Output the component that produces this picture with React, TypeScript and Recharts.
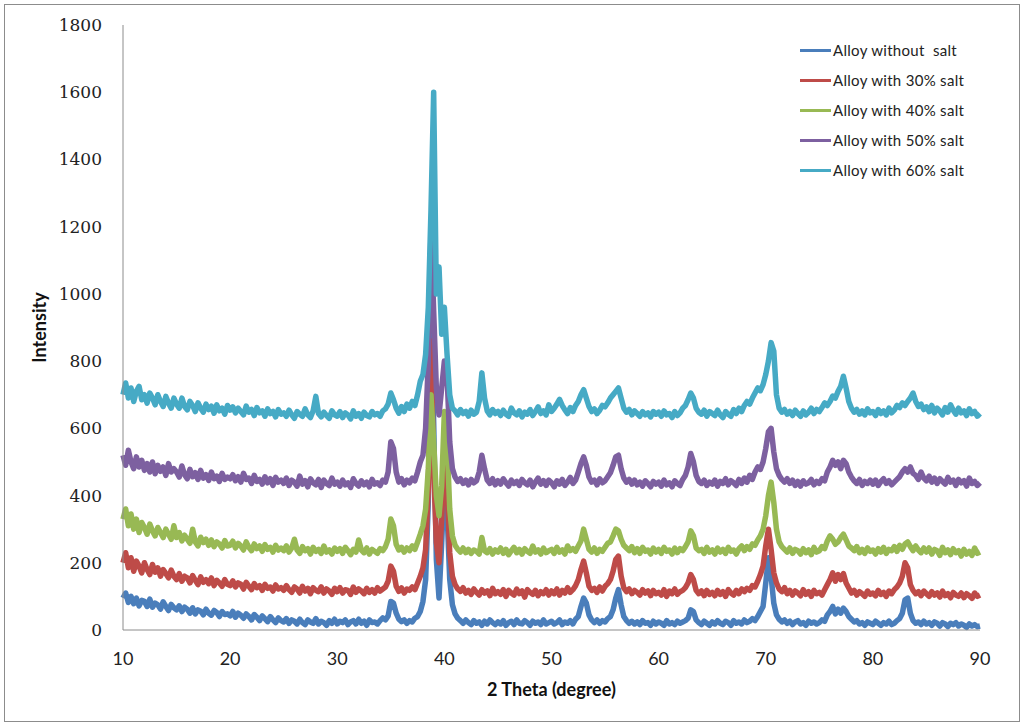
import { LineChart, Line, XAxis, YAxis, Legend } from "recharts";

// 2 theta grid, 10..90 in 0.25 degree steps
const theta: number[] = Array.from({ length: 321 }, (_, i) => 10 + i * 0.25);

// one row = 5 degrees (20 points)
const noSalt = [
  95, 110, 82, 100, 78, 95, 72, 88, 85, 70, 92, 68, 80, 75, 62, 84, 70, 58, 76, 66,
  60, 72, 55, 68, 62, 50, 66, 48, 60, 56, 45, 62, 50, 44, 58, 52, 40, 55, 46, 48,
  42, 55, 38, 50, 44, 35, 48, 40, 30, 46, 38, 28, 42, 34, 25, 40, 30, 22, 36, 28,
  24, 34, 20, 30, 26, 18, 32, 22, 16, 30, 24, 20, 34, 18, 26, 22, 14, 28, 20, 32,
  18, 26, 22, 30, 16, 24, 28, 18, 32, 20, 26, 14, 30, 22, 24, 18, 28, 36, 30, 42,
  85, 80, 50, 32, 25, 30, 20, 28, 24, 35, 40, 55, 85, 150, 380, 1000, 620, 210, 95, 260,
  450, 350, 150, 75, 48, 35, 28, 20, 30, 22, 16, 28, 20, 24, 14, 26, 18, 30, 22, 16,
  24, 18, 28, 14, 22, 26, 16, 30, 20, 18, 28, 22, 14, 26, 20, 24, 16, 30, 18, 22,
  26, 18, 22, 30, 16, 24, 20, 28, 18, 32, 40, 70, 95, 80, 45, 30, 22, 30, 20, 28,
  24, 34, 40, 60, 95, 120, 75, 40, 28, 20, 26, 18, 24, 16, 28, 20, 22, 14, 26, 18,
  24, 20, 14, 28, 18, 22, 16, 26, 20, 24, 28, 35, 60, 55, 30, 22, 16, 26, 20, 14,
  24, 18, 28, 20, 16, 26, 22, 14, 28, 20, 24, 18, 30, 22, 26, 34, 28, 40, 55, 70,
  140, 215, 160, 80, 45, 32, 24, 30, 20, 26, 16, 24, 28, 18, 22, 14, 26, 20, 24, 18,
  22, 30, 26, 45, 55, 70, 48, 62, 50, 65, 55, 40, 32, 24, 28, 18, 22, 14, 24, 20,
  16, 26, 20, 14, 22, 18, 26, 16, 20, 28, 34, 50, 90, 95, 50, 28, 20, 24, 16, 26,
  18, 22, 14, 24, 20, 12, 22, 18, 10, 20, 16, 22, 12, 18, 14, 8, 18, 12, 16, 10,
  12,
];

const salt30 = [
  200, 230, 185, 215, 175, 205, 190, 170, 200, 180, 165, 195, 172, 185, 160, 180, 168, 155, 178, 160,
  150, 168, 145, 160, 155, 140, 162, 148, 135, 158, 142, 150, 138, 155, 132, 148, 140, 130, 150, 136,
  132, 146, 128, 140, 136, 122, 142, 130, 120, 138, 126, 132, 118, 136, 124, 128, 116, 134, 122, 126,
  118, 132, 120, 112, 128, 122, 110, 130, 116, 124, 108, 126, 118, 114, 128, 110, 122, 116, 106, 124,
  114, 126, 110, 120, 118, 106, 128, 112, 122, 116, 108, 124, 112, 120, 110, 126, 116, 122, 128, 145,
  190, 175, 130, 115, 125, 110, 122, 118, 128, 120, 140, 160, 185, 240, 420, 860, 480, 260, 200, 330,
  530, 430, 230, 160, 135, 122, 115, 126, 110, 118, 106, 122, 112, 104, 120, 110, 116, 102, 124, 108,
  114, 106, 120, 100, 118, 110, 104, 122, 108, 116, 98, 120, 112, 106, 118, 102, 114, 108, 120, 104,
  116, 108, 122, 104, 118, 110, 126, 112, 120, 132, 150, 180, 205, 170, 130, 118, 124, 112, 128, 116,
  130, 138, 150, 175, 210, 220, 160, 125, 114, 122, 108, 118, 112, 104, 120, 110, 116, 102, 118, 108,
  112, 104, 120, 100, 116, 108, 122, 106, 114, 118, 126, 140, 165, 150, 118, 108, 116, 102, 118, 106,
  112, 102, 118, 106, 114, 100, 120, 110, 104, 118, 108, 122, 114, 124, 118, 132, 128, 145, 165, 190,
  250, 300, 240, 170, 140, 122, 114, 126, 108, 118, 104, 116, 110, 102, 120, 106, 114, 100, 118, 108,
  112, 104, 120, 135, 150, 170, 145, 165, 150, 168, 140, 125, 110, 118, 104, 114, 108, 100, 116, 106,
  110, 102, 118, 106, 112, 100, 116, 108, 120, 128, 140, 160, 200, 185, 135, 118, 108, 114, 102, 116,
  108, 100, 114, 104, 110, 98, 116, 102, 108, 96, 112, 104, 100, 110, 96, 108, 102, 94, 110, 100,
  104,
];

const salt40 = [
  330, 360, 310, 345, 300, 330, 290, 320, 305, 285, 315, 295, 280, 305, 290, 275, 300, 285, 270, 310,
  275, 290, 265, 282, 270, 258, 300, 262, 250, 276, 260, 270, 252, 268, 248, 262, 256, 244, 266, 250,
  252, 264, 244, 258, 250, 238, 262, 246, 236, 256, 242, 250, 234, 254, 240, 246, 232, 252, 238, 244,
  236, 250, 232, 244, 270, 238, 228, 248, 236, 242, 226, 246, 234, 240, 228, 250, 232, 238, 226, 244,
  234, 242, 228, 246, 236, 224, 240, 232, 268, 238, 230, 244, 226, 240, 234, 228, 242, 236, 248, 270,
  330, 310, 255, 238, 246, 232, 244, 236, 250, 240, 262, 285, 310, 360, 480, 700, 560, 400, 340, 430,
  650, 560, 360, 280, 252, 240, 232, 244, 230, 240, 228, 238, 234, 226, 275, 236, 230, 242, 226, 238,
  232, 244, 228, 240, 224, 236, 246, 230, 240, 226, 242, 234, 228, 250, 232, 238, 226, 244, 230, 236,
  240, 228, 246, 232, 238, 226, 250, 236, 242, 234, 250, 265, 300, 270, 240, 232, 244, 228, 240, 234,
  246, 258, 262, 280, 300, 295, 270, 252, 244, 236, 248, 230, 242, 228, 246, 234, 238, 226, 244, 232,
  240, 228, 246, 234, 238, 226, 244, 230, 242, 236, 248, 262, 295, 280, 244, 236, 240, 228, 246, 232,
  238, 226, 244, 232, 240, 228, 246, 234, 238, 226, 242, 250, 236, 248, 240, 256, 252, 268, 280, 300,
  340, 400, 440, 380, 300, 262, 248, 240, 232, 244, 228, 240, 236, 226, 242, 230, 238, 224, 246, 232,
  236, 248, 242, 265, 280, 270, 255, 262, 275, 285, 268, 250, 244, 236, 248, 230, 240, 228, 244, 234,
  238, 226, 242, 232, 246, 228, 240, 236, 248, 234, 252, 240, 256, 262, 248, 236, 250, 238, 230, 244,
  232, 244, 226, 240, 236, 222, 246, 230, 238, 224, 242, 230, 236, 220, 240, 226, 234, 222, 244, 228,
  232,
];

const salt50 = [
  520, 490, 535, 500, 480, 515, 485, 505, 475, 495, 470, 500, 465, 490, 472, 485, 460, 495, 470, 480,
  470, 455, 488, 462, 450, 478, 456, 468, 448, 475, 452, 462, 445, 470, 450, 458, 442, 466, 448, 455,
  450, 462, 444, 456, 440, 466, 448, 452, 436, 460, 442, 448, 434, 456, 438, 450, 430, 454, 440, 446,
  436, 452, 430, 446, 440, 428, 458, 434, 444, 426, 450, 438, 432, 448, 424, 446, 436, 430, 452, 434,
  440, 428, 446, 432, 438, 424, 450, 436, 428, 444, 432, 440, 426, 448, 434, 438, 430, 446, 440, 470,
  560, 540, 470, 440, 450, 432, 446, 438, 452, 444, 470, 500, 520, 600, 800, 1190, 950, 720, 640, 720,
  800, 760, 560, 480, 455, 442, 450, 436, 446, 432, 448, 438, 444, 470, 520, 480, 446, 436, 450, 432,
  444, 434, 450, 438, 428, 446, 436, 442, 430, 448, 438, 432, 446, 426, 440, 452, 434, 444, 430, 446,
  438, 426, 444, 434, 448, 430, 440, 454, 436, 446, 470, 495, 515, 490, 455, 440, 446, 432, 450, 438,
  444, 456, 468, 490, 515, 520, 480, 452, 440, 448, 434, 446, 432, 440, 428, 444, 436, 426, 442, 434,
  440, 428, 446, 432, 438, 426, 444, 436, 430, 448, 460, 485, 525, 500, 460, 442, 436, 446, 430, 440,
  434, 446, 428, 442, 436, 450, 432, 444, 438, 430, 448, 436, 452, 440, 460, 448, 470, 485, 478, 500,
  540, 590, 600, 530, 480, 460, 448, 440, 450, 436, 446, 430, 442, 428, 444, 434, 438, 448, 432, 442,
  436, 450, 444, 470, 485, 505, 490, 500, 480, 505, 495, 470, 455, 444, 436, 448, 430, 442, 436, 446,
  434, 446, 430, 442, 450, 436, 444, 432, 440, 448, 456, 470, 480, 470, 485, 466, 460, 448, 470, 452,
  444, 458, 440, 452, 436, 450, 442, 434, 454, 440, 446, 430, 448, 438, 444, 428, 452, 436, 442, 430,
  438,
];

const salt60 = [
  700, 735, 690, 720, 680, 710, 725, 685, 700, 675, 705, 690, 670, 700, 680, 665, 695, 675, 660, 690,
  672, 660, 690, 665, 655, 680, 668, 650, 676, 660, 648, 672, 656, 666, 645, 670, 652, 660, 642, 668,
  654, 664, 646, 660, 650, 640, 666, 648, 656, 638, 662, 646, 652, 636, 658, 644, 650, 634, 656, 642,
  646, 636, 654, 640, 630, 650, 642, 636, 658, 640, 632, 652, 695, 644, 634, 648, 638, 630, 652, 640,
  636, 650, 632, 646, 640, 628, 652, 636, 644, 630, 648, 638, 634, 650, 640, 644, 636, 652, 658, 672,
  705, 685, 660, 645, 665, 650, 672, 660, 680, 668, 700, 740, 760, 820, 960, 1250, 1600, 1000, 1080, 880,
  960, 820, 700, 660, 652, 640, 656, 644, 650, 636, 654, 642, 648, 680, 765, 690, 652, 640, 656, 644,
  650, 638, 654, 642, 636, 660, 646, 640, 652, 634, 648, 642, 656, 638, 650, 664, 644, 652, 640, 670,
  650, 660, 672, 686, 668, 655, 644, 662, 650, 668, 680, 700, 715, 690, 665, 650, 658, 644, 654, 668,
  664, 676, 690, 700, 710, 720, 690, 660, 648, 656, 640, 652, 644, 636, 650, 640, 646, 634, 650, 642,
  648, 636, 652, 640, 644, 632, 650, 638, 646, 660, 668, 685, 705, 690, 660, 648, 642, 654, 636, 650,
  644, 638, 654, 640, 632, 650, 642, 636, 656, 644, 660, 650, 668, 680, 672, 690, 705, 720, 712, 730,
  760, 800, 855, 830, 700, 660, 648, 656, 642, 650, 638, 654, 644, 636, 652, 640, 648, 660, 644, 656,
  650, 662, 676, 668, 680, 696, 690, 710, 725, 755, 720, 680, 660, 648, 656, 642, 652, 640, 658, 646,
  650, 638, 656, 644, 652, 640, 660, 646, 654, 668, 662, 676, 668, 680, 690, 705, 680, 665, 672, 656,
  664, 650, 668, 646, 660, 652, 640, 662, 648, 670, 654, 642, 660, 646, 652, 638, 658, 644, 650, 636,
  644,
];

const seriesNames = [
  "Alloy without  salt",
  "Alloy with 30% salt",
  "Alloy with 40% salt",
  "Alloy with 50% salt",
  "Alloy with 60% salt",
];
const seriesKeys = ["s0", "s30", "s40", "s50", "s60"];
const seriesColors = ["#4a7ebb", "#be4b48", "#98b954", "#7d60a0", "#46aac5"];

const xTicks = [10, 20, 30, 40, 50, 60, 70, 80, 90];
const yTicks = [0, 200, 400, 600, 800, 1000, 1200, 1400, 1600, 1800];

const data = theta.map((t, i) => ({
  theta: t,
  s0: noSalt[i],
  s30: salt30[i],
  s40: salt40[i],
  s50: salt50[i],
  s60: salt60[i],
}));

const renderLegend = () => (
  <div style={{ fontFamily: "Lato, sans-serif", fontSize: 15, letterSpacing: 0.3, color: "#222" }}>
    {seriesNames.map((name, i) => (
      <div key={name} style={{ height: 30, display: "flex", alignItems: "center" }}>
        <span
          style={{
            display: "inline-block",
            width: 31,
            height: 3,
            background: seriesColors[i],
            marginRight: 2,
          }}
        />
        <span style={{ whiteSpace: "pre" }}>{name}</span>
      </div>
    ))}
  </div>
);

export default function App() {
  return (
    <div
      style={{
        position: "absolute",
        left: 4,
        top: 4,
        width: 1014,
        height: 716,
        border: "1px solid #8c8c8c",
        background: "#fff",
      }}
    >
      <LineChart
        width={1014}
        height={716}
        data={data}
        margin={{ top: 20, right: 39, left: 18, bottom: 31 }}
      >
        <XAxis
          dataKey="theta"
          type="number"
          domain={[10, 90]}
          ticks={xTicks}
          height={60}
          tickSize={0}
          tickMargin={22}
          stroke="#8c8c8c"
          tick={{ fill: "#222", fontFamily: "Lato, sans-serif", fontSize: 18 }}
          label={{
            value: "2 Theta (degree)",
            position: "bottom",
            offset: -7,
            style: { fontFamily: "Lato, sans-serif", fontSize: 18, fontWeight: 700, fill: "#111" },
          }}
        />
        <YAxis
          type="number"
          domain={[0, 1800]}
          ticks={yTicks}
          width={100}
          tickSize={0}
          tickMargin={21}
          stroke="#8c8c8c"
          tick={{ fill: "#222", fontFamily: "'DejaVu Serif', serif", fontSize: 17 }}
          label={{
            value: "Intensity",
            angle: -90,
            position: "insideLeft",
            offset: 17,
            style: {
              textAnchor: "middle",
              fontFamily: "Lato, sans-serif",
              fontSize: 18,
              fontWeight: 700,
              fill: "#111",
            },
          }}
        />
        <Legend
          content={renderLegend}
          layout="vertical"
          align="center"
          verticalAlign="middle"
          wrapperStyle={{ position: "absolute", left: 795, top: 30, width: 215 }}
        />
        {seriesKeys.map((k, i) => (
          <Line
            key={k}
            dataKey={k}
            name={seriesNames[i]}
            stroke={seriesColors[i]}
            strokeWidth={5.5}
            strokeLinejoin="round"
            dot={false}
            type="linear"
            isAnimationActive={false}
          />
        ))}
      </LineChart>
    </div>
  );
}
